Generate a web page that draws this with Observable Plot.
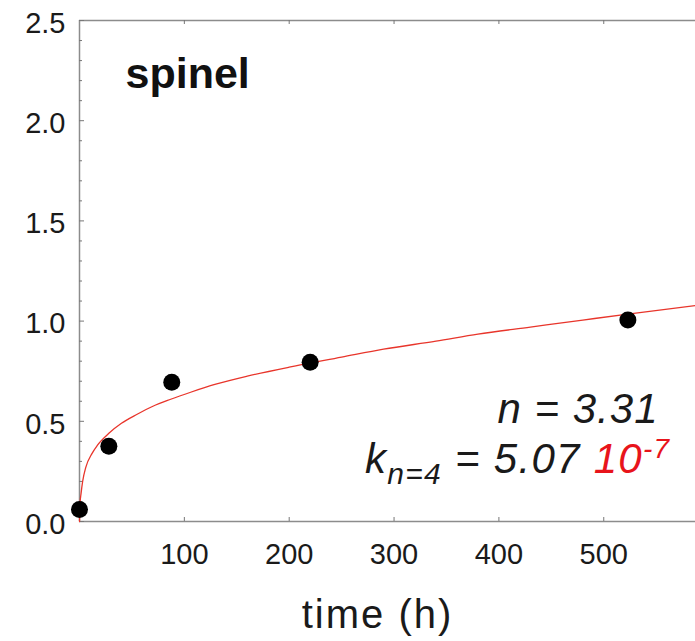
<!DOCTYPE html>
<html><head><meta charset="utf-8">
<script src="https://cdn.jsdelivr.net/npm/d3@7"></script>
<script src="https://cdn.jsdelivr.net/npm/@observablehq/plot@0.6"></script>
<style>body{margin:0;background:#fff;} #chart svg{display:block;}</style>
</head><body><div id="chart"></div>
<script>
// measured points (time in h, value)
const pointTime = [0, 28, 88, 220, 523];
const pointValue = [0.06, 0.375, 0.695, 0.795, 1.005];
// fitted curve
const fitTime = [0, 0.5, 1.5, 3, 6, 12, 17, 28, 40, 55, 70, 87, 106, 130, 160, 200, 250, 290, 340, 380, 430, 480, 523, 587.5];
const fitValue = [0, 0.09, 0.14, 0.20, 0.27, 0.34, 0.38, 0.44, 0.49, 0.535, 0.575, 0.61, 0.645, 0.685, 0.725, 0.77, 0.82, 0.86, 0.90, 0.935, 0.97, 1.005, 1.035, 1.078];
const yTicks = [0, 0.5, 1.0, 1.5, 2.0, 2.5];
const yMinorTicks = [0.1, 0.2, 0.3, 0.4, 0.6, 0.7, 0.8, 0.9, 1.1, 1.2, 1.3, 1.4, 1.6, 1.7, 1.8, 1.9, 2.1, 2.2, 2.3, 2.4];
const xTicks = [100, 200, 300, 400, 500];
const xDomain = [0, 587.5];
const yDomain = [0, 2.5];
const panelLabel = "spinel";
const xLabel = "time (h)";
const nLabel = "n = 3.31";
const kLabel = "k";

const points = pointTime.map((t, i) => ({t, v: pointValue[i]}));
const fit = fitTime.map((t, i) => ({t, v: fitValue[i]}));

const W = 695, H = 641, mL = 79, mT = 20, mB = 120, mR = 0;
const plotW = W - mL - mR, plotH = H - mT - mB;
const axisGray = "#8c8c8c";
const font = "'Liberation Sans', Arial, Helvetica, sans-serif";

const chart = Plot.plot({
  width: W, height: H,
  marginLeft: mL, marginTop: mT, marginBottom: mB, marginRight: mR,
  style: {fontFamily: font, background: "#fff", color: "#1a1a1a", overflow: "visible"},
  x: {domain: xDomain},
  y: {domain: yDomain},
  marks: [
    Plot.ruleY([yDomain[1]], {stroke: axisGray, strokeWidth: 1.5}),
    Plot.ruleY([yDomain[0]], {stroke: axisGray, strokeWidth: 1.5}),
    Plot.ruleX([xDomain[0]], {stroke: axisGray, strokeWidth: 1.5}),
    Plot.tickY(yMinorTicks, {y: d => d, insetRight: plotW - 3, stroke: "#777"}),
    Plot.tickY(yTicks, {y: d => d, insetRight: plotW - 5, stroke: "#777"}),
    Plot.tickX(xTicks, {x: d => d, insetTop: plotH - 4, stroke: "#777"}),
    Plot.tickX(xTicks, {x: d => d, insetBottom: plotH - 4, stroke: "#777"}),
    Plot.axisY(yTicks, {tickSize: 0, tickPadding: 14, tickFormat: d3.format(".1f"), fontSize: 29, dy: 3, label: null}),
    Plot.axisX(xTicks, {tickSize: 0, tickPadding: 22, fontSize: 29, label: null}),
    Plot.line(fit, {x: "t", y: "v", stroke: "#e8352b", strokeWidth: 1.3, curve: "monotone-x"}),
    Plot.dot(points, {x: "t", y: "v", r: 8.5, fill: "#000", stroke: "none"}),
    Plot.text([panelLabel], {frameAnchor: "top-left", textAnchor: "start", lineAnchor: "top", dx: 46, dy: 36.5, fontSize: 43, fontWeight: "bold", fill: "#111"}),
    Plot.text([nLabel], {frameAnchor: "top-right", textAnchor: "end", lineAnchor: "middle", dx: -37, dy: 389, fontSize: 42, fontStyle: "italic", fill: "#1a1a1a"}),
    Plot.text([kLabel], {frameAnchor: "top-right", textAnchor: "end", lineAnchor: "middle", dx: -25, dy: 439, fontSize: 42, fontStyle: "italic", fill: "#1a1a1a"}),
    Plot.text([xLabel], {frameAnchor: "bottom", textAnchor: "middle", lineAnchor: "middle", dx: -10, dy: 94, fontSize: 40, fill: "#1a1a1a"})
  ]
});
document.getElementById("chart").appendChild(chart);

const texts = d3.select(chart).selectAll("text");
// style the k-line with subscript and red superscript
const kt = texts.filter(function() { return this.textContent === kLabel; });
kt.text(null).attr("letter-spacing", 1.3);
kt.append("tspan").text("k");
kt.append("tspan").attr("font-size", 30).attr("dy", 11).text("n=4");
kt.append("tspan").attr("dy", -11).text(" = 5.07 ");
kt.append("tspan").attr("fill", "#e8141b").text("10");
kt.append("tspan").attr("fill", "#e8141b").attr("font-size", 28).attr("dy", -15).text("-7");
texts.filter(function() { return this.textContent === xLabel; }).attr("letter-spacing", 2);
texts.filter(function() { return this.textContent === nLabel; }).attr("letter-spacing", 1);
</script>
</body></html>
